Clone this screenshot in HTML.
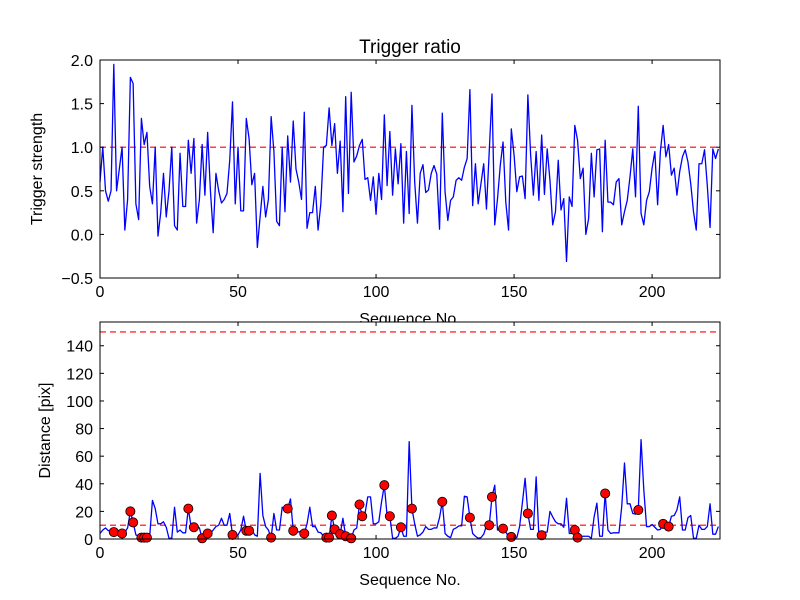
<!DOCTYPE html>
<html><head><meta charset="utf-8"><style>
body{margin:0;background:#fff;}
svg{display:block;font-family:"Liberation Sans","DejaVu Sans",sans-serif;}
</style></head><body>
<svg id="fig" width="800" height="600" viewBox="0 0 800 600">
<rect x="0" y="0" width="800" height="600" fill="#fff"/>
<text x="410" y="53" font-size="19" text-anchor="middle">Trigger ratio</text>
<g id="top"></g>
<g id="bot"></g>
</svg>
<script>
const trigger = [0.6,1.0,0.5,0.38,0.5,1.95,0.5,0.75,1.0,0.05,
0.4,1.8,1.73,0.35,0.17,1.33,1.03,1.17,0.55,0.35,
1.0,-0.02,0.25,0.7,0.2,0.5,1.0,0.1,0.05,0.93,
0.32,0.32,1.08,0.7,1.1,0.13,0.4,1.03,0.45,1.17,
0.5,0.02,0.7,0.5,0.36,0.4,0.47,0.85,1.52,0.35,
1.0,0.27,0.27,1.33,1.1,0.57,0.7,-0.15,0.2,0.55,
0.2,0.4,1.35,0.95,0.15,0.1,1.0,0.26,1.13,0.6,
1.3,0.75,0.6,0.4,1.4,0.07,0.25,0.25,0.55,0.05,
0.35,1.0,1.02,1.45,1.02,1.27,0.7,1.07,0.26,1.58,
0.47,1.63,0.83,0.9,1.02,1.09,0.63,0.65,0.39,0.66,
0.23,0.7,0.4,1.37,0.56,1.18,0.45,0.98,0.58,1.04,
0.13,0.95,0.24,1.48,0.6,0.13,0.7,0.8,0.48,0.51,
0.7,0.79,0.69,0.06,1.39,0.49,0.16,0.39,0.43,0.62,
0.65,0.62,0.77,0.87,1.66,0.33,0.81,0.35,0.58,0.81,
0.29,0.95,1.61,0.11,0.41,0.79,1.06,0.37,0.05,1.21,
0.91,0.49,0.66,0.67,0.41,1.6,0.91,0.45,0.95,0.39,
1.14,0.46,0.98,0.62,0.11,0.26,0.85,0.28,0.41,-0.31,
0.43,0.32,1.25,1.08,0.64,0.76,0.0,0.18,0.93,0.43,
0.97,0.98,0.03,1.08,0.37,0.37,0.34,0.6,0.64,0.11,
0.26,0.39,0.66,0.98,0.43,1.47,0.24,0.11,0.39,0.49,
0.76,0.95,0.34,0.95,1.25,0.89,1.03,0.68,0.76,0.45,
0.72,0.89,0.97,0.83,0.58,0.26,0.05,0.81,0.81,0.97,
0.56,0.08,0.98,0.87,0.98];
const distance = [4,6.5,8,6,6.5,5,5,4,4,5,
8,20,12,3,2,1,1,1,2,28,
22,11,11,12.5,8.5,0.5,0.5,23,5,6.5,
4.5,4.5,22,9,8.5,10,8,0.5,4,4,
4,6.5,9,10,15,10,10,18.5,3,3,
3,6.5,16.5,6,6,7,3,2,47.5,17,
9,6.5,1,18.5,6.5,6.5,23,22,22,29,
6,6,5,6,4,11,23,9,9,5,
4.5,2,1,1,17,7,6.5,3.5,15,2,
1,0.5,6.5,8,25,16.5,18.5,30.5,30.5,11,
11,12.5,27,39,17,16.5,0.5,0.5,2,8.5,
2,2,70.5,22,11,2,3,5,9,7,
7,8,8,15.5,27,4,2,1,7,8,
9.5,9.5,31,30.5,15.5,4,2,0.5,1,3.5,
9.5,10,30.5,39,6.5,6.5,7.5,5,2,1.5,
1,1,9,26,44,18.5,7,7,45,2,
2.7,5,5,20,16,12.5,11,11,8.5,29.5,
4,4,6.5,1,2,2,2,2,0.5,16,
26,2,2,33,6.5,4,4.5,4.5,4.5,23.5,
55,25.5,25.5,18.5,18,21,72,35.5,9,9,
10.5,8.5,6.5,7,11,9,9,16.5,17,21,
30.5,6.5,6.5,15.5,17,0.5,0.5,10,7,7,
9,25.5,3.5,3.5,9];
const markerIdx = [5,8,11,12,15,16,17,32,34,37,39,48,53,54,62,68,70,74,82,83,84,85,87,89,91,94,95,103,105,109,113,124,134,141,142,146,149,155,160,172,173,183,195,204,206];
const xTicks = [0,50,100,150,200];
const topYTicks = [-0.5,0,0.5,1.0,1.5,2.0];
const botYTicks = [0,20,40,60,80,100,120,140];
const topThreshold = [1.0];
const botThresholds = [10,150];

const NS="http://www.w3.org/2000/svg";
function mk(tag,attrs,parent){const e=document.createElementNS(NS,tag);for(const k in attrs)e.setAttribute(k,attrs[k]);parent.appendChild(e);return e;}
const X0=100,X1=720,XMAX=224.6;
function xs(v){return X0+(v/XMAX)*(X1-X0);}

function axes(g,top,bot,ymin,ymax,yTicks,fmt,xlabel,ylabel,ylx,pfx){
  const ys=v=>bot-(v-ymin)/(ymax-ymin)*(bot-top);
  return {ys,draw(){
    const fr=mk('rect',{x:X0,y:top,width:X1-X0,height:bot-top,fill:'none',stroke:'#000','stroke-width':1},g);
    
    xTicks.forEach(t=>{const x=xs(t);
      const a=mk('line',{x1:x,x2:x,y1:bot,y2:bot-4,stroke:'#000'},g);
      const b=mk('line',{x1:x,x2:x,y1:top,y2:top+4,stroke:'#000'},g);
      const l=mk('text',{x:x,y:bot+19,'font-size':16,'text-anchor':'middle'},g);l.textContent=t;
      });
    yTicks.forEach(t=>{const y=ys(t);
      const a=mk('line',{x1:X0,x2:X0+4,y1:y,y2:y,stroke:'#000'},g);
      const b=mk('line',{x1:X1,x2:X1-4,y1:y,y2:y,stroke:'#000'},g);
      const l=mk('text',{x:X0-7,y:y+6,'font-size':16,'text-anchor':'end'},g);l.textContent=fmt(t);
      });
    const xl=mk('text',{x:410,y:bot+46,'font-size':16,'text-anchor':'middle'},g);xl.textContent=xlabel;
    
    const cy=(top+bot)/2;
    const yl=mk('text',{x:ylx,y:cy,'font-size':16,'text-anchor':'middle',transform:`rotate(-90 ${ylx} ${cy})`},g);yl.textContent=ylabel;
    
  }};
}
function dashed(g,ys,v,name){const l=mk('line',{x1:X0,x2:X1,y1:ys(v),y2:ys(v),stroke:'#ff0000','stroke-width':1.2,'stroke-dasharray':'6,4'},g);
  }
function series(g,ys,arr,name){const p=mk('polyline',{points:arr.map((v,i)=>xs(i).toFixed(2)+','+ys(v).toFixed(2)).join(' '),fill:'none',stroke:'#0000ff','stroke-width':1.3,'stroke-linejoin':'round'},g);
  }

const gt=document.getElementById('top'),gb=document.getElementById('bot');
// top
const A=axes(gt,60,278,-0.5,2.0,topYTicks,t=>t.toFixed(1).replace('-','\u2212'),'Sequence No.','Trigger strength',42,'top');
topThreshold.forEach(v=>dashed(gt,A.ys,v,'trigger-threshold-line'));
series(gt,A.ys,trigger,'trigger-strength-line');
A.draw();
// bottom (white bg to cover top x-label overlap)
const bg=mk('rect',{x:X0,y:322,width:X1-X0,height:217,fill:'#fff'},gb);

const B=axes(gb,322,539,0,157.2,botYTicks,t=>String(t),'Sequence No.','Distance [pix]',50,'bottom');
botThresholds.forEach(v=>dashed(gb,B.ys,v,'distance-threshold-line'));
series(gb,B.ys,distance,'distance-line');
markerIdx.forEach(i=>{const c=mk('circle',{cx:xs(i),cy:B.ys(distance[i]),r:4.6,fill:'#ff0000',stroke:'#000','stroke-width':0.8},gb);
  
  });
B.draw();
</script>
</body></html>
